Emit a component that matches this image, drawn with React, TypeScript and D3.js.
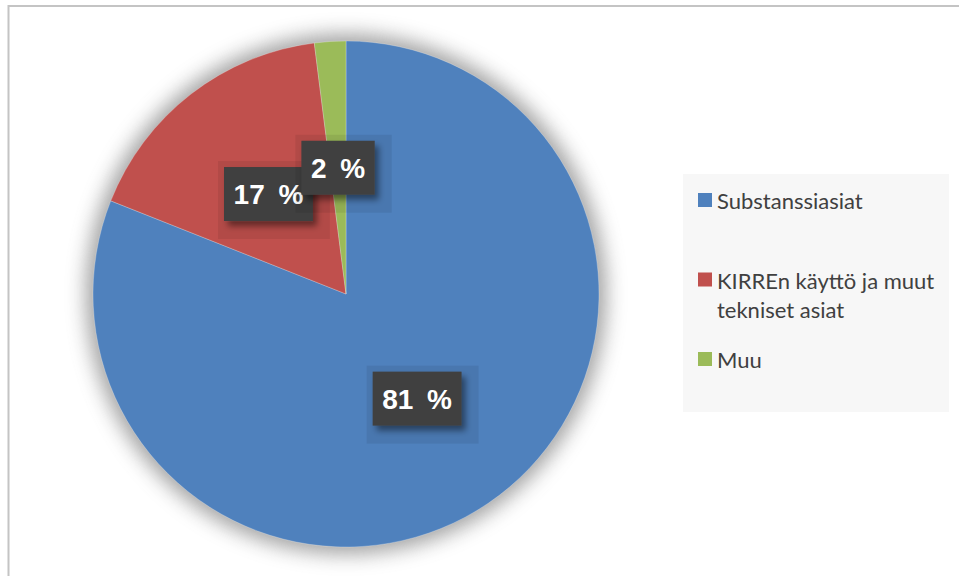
import React, { useEffect, useRef } from 'react';
import * as d3 from 'd3';

const categories = ['Substanssiasiat', 'KIRREn käyttö ja muut tekniset asiat', 'Muu'];
const legendLines = [['Substanssiasiat'], ['KIRREn käyttö ja muut', 'tekniset asiat'], ['Muu']];
const values = [81, 17, 2];
const labels = ['81 %', '17 %', '2 %'];
const colors = ['#4f81bd', '#c0504d', '#9bbb59'];

const W = 959;
const H = 576;

export default function App() {
  const ref = useRef<SVGSVGElement | null>(null);

  useEffect(() => {
    const svg = d3.select(ref.current);
    svg.selectAll('*').remove();

    const defs = svg.append('defs');
    const glow = defs.append('filter').attr('id', 'pieGlow').attr('x', '-20%').attr('y', '-20%').attr('width', '140%').attr('height', '140%');
    glow.append('feGaussianBlur').attr('stdDeviation', 10);
    const ds = defs.append('filter').attr('id', 'boxShadow').attr('x', '-30%').attr('y', '-30%').attr('width', '160%').attr('height', '160%');
    ds.append('feDropShadow').attr('dx', 4).attr('dy', 5).attr('stdDeviation', 3).attr('flood-color', '#000').attr('flood-opacity', 0.45);

    // background + chart border
    svg.append('rect').attr('x', 0).attr('y', 0).attr('width', W).attr('height', H).attr('fill', '#fff');
    svg.append('rect').attr('x', 8.5).attr('y', 6).attr('width', W + 20).attr('height', H + 20)
      .attr('fill', 'none').attr('stroke', '#c4c4c4').attr('stroke-width', 2);

    const cx = 346, cy = 294, r = 253;
    const g = svg.append('g').attr('transform', `translate(${cx},${cy})`);

    g.append('circle').attr('r', r + 7).attr('fill', '#7a7a7a').attr('opacity', 0.7).attr('filter', 'url(#pieGlow)');

    const pie = d3.pie<number>().sort(null).value(d => d);
    const arcs = pie(values);
    const arc = d3.arc<d3.PieArcDatum<number>>().innerRadius(0).outerRadius(r);

    g.selectAll('path.slice').data(arcs).enter().append('path')
      .attr('class', 'slice')
      .attr('d', arc as any)
      .attr('fill', (_, i) => colors[i])
      .attr('stroke', '#ffffff')
      .attr('stroke-opacity', 0.35)
      .attr('stroke-width', 0.7);

    // labels
    const lg = g.append('g');
    arcs.forEach((a, i) => {
      const [x, y] = arc.centroid(a);
      const grp = lg.append('g').attr('transform', `translate(${x},${y})`);
      const outer = grp.append('rect');
      const box = grp.append('rect');
      const t = grp.append('text')
        .attr('text-anchor', 'middle')
        .attr('dy', '0.36em')
        .attr('fill', '#ffffff')
        .attr('font-family', '"Liberation Sans", Arial, sans-serif')
        .attr('font-weight', 'bold')
        .attr('font-size', 28)
        .attr('word-spacing', 6)
        .style('white-space', 'pre')
        .text(labels[i]);
      const bb = (t.node() as SVGTextElement).getBBox();
      const bw = bb.width + 19;
      const bh = 54;
      outer.attr('x', -bw / 2 - 6).attr('y', -bh / 2 - 6).attr('width', bw + 23).attr('height', bh + 24)
        .attr('fill', '#000').attr('opacity', 0.07);
      box.attr('x', -bw / 2).attr('y', -bh / 2).attr('width', bw).attr('height', bh)
        .attr('fill', '#404040').attr('filter', 'url(#boxShadow)');
    });

    // legend
    const lx = 683, ly = 174, lw = 266, lh = 238;
    svg.append('rect').attr('x', lx).attr('y', ly).attr('width', lw).attr('height', lh).attr('fill', '#f7f7f7');
    const rowY = d3.scalePoint<string>().domain(categories).range([193, 352]);
    categories.forEach((c, i) => {
      const y0 = rowY(c) as number;
      svg.append('rect').attr('x', 698).attr('y', y0).attr('width', 14).attr('height', 14).attr('fill', colors[i]);
      const tx = svg.append('text')
        .attr('x', 717)
        .attr('y', y0 + 16)
        .attr('fill', '#404040')
        .attr('font-family', 'Lato, "Open Sans", sans-serif')
        .attr('font-size', 22);
      legendLines[i].forEach((line, j) => {
        tx.append('tspan').attr('x', 717).attr('dy', j === 0 ? 0 : 29).text(line);
      });
    });
  }, []);

  return (
    <div style={{ position: 'fixed', left: 0, top: 0, width: W, height: H, background: '#fff' }}>
      <svg ref={ref} width={W} height={H} style={{ display: 'block' }} />
    </div>
  );
}
